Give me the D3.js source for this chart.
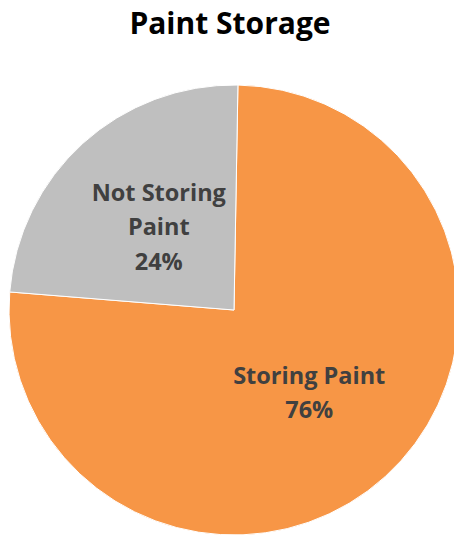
<!DOCTYPE html>
<html>
<head>
<meta charset="utf-8">
<script src="https://cdn.jsdelivr.net/npm/d3@7"></script>
<style>
  body { margin: 0; background: #fff; }
  svg text { font-family: "Open Sans", sans-serif; font-weight: bold; }
</style>
</head>
<body>
<div id="chart"></div>
<script>
{
  const { d3 } = window;

  const title = 'Paint Storage';
  const categories = ['Storing Paint', 'Not Storing Paint'];
  const values = [76, 24];
  const labelLines = [['Storing Paint', '76%'], ['Not Storing', 'Paint', '24%']];
  const colors = ['#F79646', '#BFBFBF'];

  const width = 454;
  const height = 536;
  const cx = 234;
  const cy = 310;
  const radius = 225;

  const svg = d3.select('#chart').append('svg')
    .attr('width', width)
    .attr('height', height);

  svg.append('text')
    .attr('x', 230)
    .attr('y', 34)
    .attr('text-anchor', 'middle')
    .attr('font-size', 30)
    .attr('fill', '#000')
    .text(title);

  const color = d3.scaleOrdinal()
    .domain(categories)
    .range(colors);

  // excel starts the first slice a touch past 12 o'clock
  const pie = d3.pie()
    .sort(null)
    .startAngle(Math.PI / 180)
    .endAngle(2 * Math.PI + Math.PI / 180);

  const arcs = pie(values)
    .map((a, i) => Object.assign(a, { name: categories[i], lines: labelLines[i] }));

  const arc = d3.arc().innerRadius(0).outerRadius(radius);
  const labelArc = d3.arc().innerRadius(112).outerRadius(112);

  const g = svg.append('g')
    .attr('transform', `translate(${cx},${cy})`);

  g.selectAll('path')
    .data(arcs)
    .join('path')
    .attr('d', arc)
    .attr('fill', d => color(d.name))
    .attr('stroke', '#fff')
    .attr('stroke-width', 1);

  const lineH = 34.5;
  g.selectAll('text.label')
    .data(arcs)
    .join('text')
    .attr('class', 'label')
    .attr('font-size', 23.5)
    .attr('fill', '#404040')
    .attr('text-anchor', 'middle')
    .each(function (d) {
      const [x, y] = labelArc.centroid(d);
      const n = d.lines.length;
      d3.select(this).selectAll('tspan')
        .data(d.lines)
        .join('tspan')
        .attr('x', x)
        .attr('y', (t, i) => y + (i - (n - 1) / 2) * lineH + 8)
        .text(t => t);
    });
}
</script>
</body>
</html>
